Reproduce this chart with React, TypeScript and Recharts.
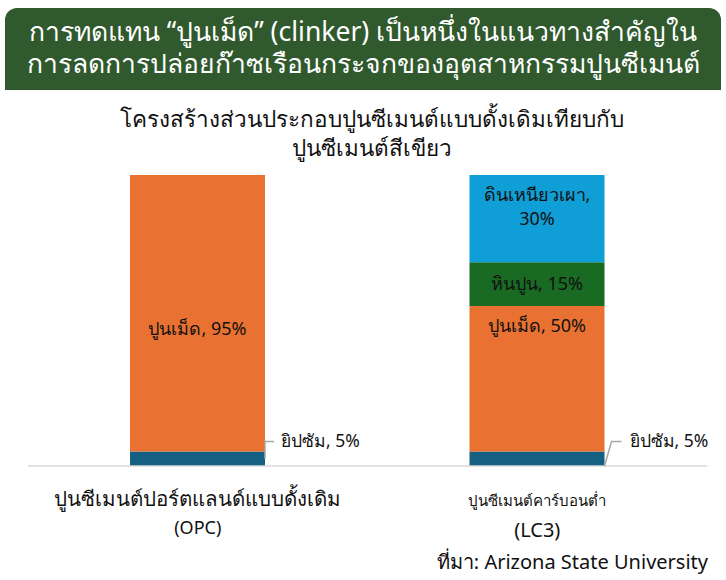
import React from "react";
import { Bar, BarChart, LabelList, XAxis, YAxis } from "recharts";

document.body.style.margin = "0";

const categories = ["OPC", "LC3"];
const tickLine1 = ["ปูนซีเมนต์ปอร์ตแลนด์แบบดั้งเดิม", "ปูนซีเมนต์คาร์บอนต่ำ"];
const tickLine2 = ["(OPC)", "(LC3)"];
const gypsum = [5, 5];
const clinker = [95, 50];
const limestone = [0, 15];
const clay = [0, 30];

const seriesNames = {
  gypsum: "ยิปซัม",
  clinker: "ปูนเม็ด",
  limestone: "หินปูน",
  clay: "ดินเหนียวเผา",
};

const data = categories.map((c, i) => ({
  name: c,
  gypsum: gypsum[i],
  clinker: clinker[i],
  limestone: limestone[i],
  clay: clay[i],
}));

const FONT = "'Noto Sans', sans-serif";

function CategoryTick(props: any) {
  const { x, y, payload } = props;
  const i = payload.index;
  const small = i === 1;
  return (
    <g>
      <text x={x} y={y + 32} textAnchor="middle" fontSize={small ? 15 : 20.5} fill="#111" fontFamily={FONT}>
        {tickLine1[i]}
      </text>
      <text x={x} y={y + (small ? 63 : 60)} textAnchor="middle" fontSize={small ? 20 : 18} fill="#111" fontFamily={FONT}>
        {tickLine2[i]}
      </text>
    </g>
  );
}

function inner(key: "clinker" | "limestone" | "clay") {
  return (props: any) => {
    const { x, y, width, height, value, index } = props;
    if (!value) return null;
    const cx = x + width / 2;
    const txt = `${seriesNames[key]}, ${value}%`;
    if (key === "clay") {
      return (
        <text x={cx} textAnchor="middle" fontSize={18} fill="#111" fontFamily={FONT}>
          <tspan x={cx} y={y + height / 2 - 18}>{seriesNames[key]},</tspan>
          <tspan x={cx} y={y + height / 2 + 6}>{value}%</tspan>
        </text>
      );
    }
    let ty = y + height / 2 + 6;
    if (key === "clinker") ty = index === 0 ? y + height / 2 + 22 : y + 26;
    return (
      <text x={cx} y={ty} textAnchor="middle" fontSize={18} fill="#111" fontFamily={FONT}>
        {txt}
      </text>
    );
  };
}

function GypsumLabel(props: any) {
  const { x, y, width, height, value, index } = props;
  const rx = x + width;
  const ly = y - 10;
  const path =
    index === 0
      ? `M${rx},${y + height / 2} L${rx},${ly} L${rx + 9},${ly}`
      : `M${rx},${y + height} L${rx + 7},${ly} L${rx + 17},${ly}`;
  const tx = index === 0 ? rx + 16 : rx + 25;
  return (
    <g>
      <path d={path} stroke="#a6a6a6" strokeWidth={1.5} fill="none" />
      <text x={tx} y={ly + 6} fontSize={17.5} fill="#111" fontFamily={FONT}>
        {`${seriesNames.gypsum}, ${value}%`}
      </text>
    </g>
  );
}

export default function App() {
  return (
    <div style={{ position: "relative", width: 726, height: 580, background: "#fff", fontFamily: FONT }}>
      <div
        style={{
          position: "absolute",
          left: 5,
          top: 8,
          width: 716,
          height: 82,
          background: "#30592d",
          borderRadius: "12px 12px 0 0",
          color: "#fff",
          fontSize: 26.5,
          lineHeight: "32px",
          textAlign: "center",
          paddingTop: 7,
          boxSizing: "border-box",
          whiteSpace: "nowrap",
        }}
      >
        <div>การทดแทน “ปูนเม็ด” (clinker) เป็นหนึ่งในแนวทางสำคัญใน</div>
        <div>การลดการปล่อยก๊าซเรือนกระจกของอุตสาหกรรมปูนซีเมนต์</div>
      </div>
      <div
        style={{
          position: "absolute",
          left: 0,
          top: 104,
          width: 744,
          textAlign: "center",
          fontSize: 22.5,
          lineHeight: "29px",
          color: "#111",
          whiteSpace: "nowrap",
        }}
      >
        <div>โครงสร้างส่วนประกอบปูนซีเมนต์แบบดั้งเดิมเทียบกับ</div>
        <div>ปูนซีเมนต์สีเขียว</div>
      </div>
      <div style={{ position: "absolute", left: 0, top: 0 }}>
        <BarChart
          width={726}
          height={580}
          data={data}
          margin={{ top: 175, right: 19, bottom: 0, left: 28 }}
          barSize={135}
        >
          <XAxis
            dataKey="name"
            axisLine={{ stroke: "#d9d9d9", strokeWidth: 1.5 }}
            tickLine={false}
            tick={<CategoryTick />}
            interval={0}
            height={114}
          />
          <YAxis hide domain={[0, 100]} />
          <Bar dataKey="gypsum" stackId="a" fill="#156082" isAnimationActive={false}>
            <LabelList dataKey="gypsum" content={<GypsumLabel />} />
          </Bar>
          <Bar dataKey="clinker" stackId="a" fill="#e97132" isAnimationActive={false}>
            <LabelList dataKey="clinker" content={inner("clinker")} />
          </Bar>
          <Bar dataKey="limestone" stackId="a" fill="#196b24" isAnimationActive={false}>
            <LabelList dataKey="limestone" content={inner("limestone")} />
          </Bar>
          <Bar dataKey="clay" stackId="a" fill="#0f9ed5" isAnimationActive={false}>
            <LabelList dataKey="clay" content={inner("clay")} />
          </Bar>
        </BarChart>
      </div>
      <div
        style={{
          position: "absolute",
          right: 18,
          top: 546,
          fontSize: 20,
          color: "#111",
          whiteSpace: "nowrap",
        }}
      >
        ที่มา: Arizona State University
      </div>
    </div>
  );
}
